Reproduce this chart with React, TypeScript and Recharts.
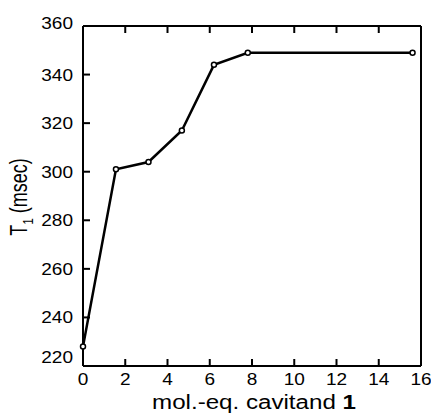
import React from 'react';
import { LineChart, Line, XAxis, YAxis } from 'recharts';

const xValues = [0, 1.56, 3.1, 4.68, 6.2, 7.8, 15.6];
const t1Values = [228, 301, 304, 317, 344, 349, 349];
const xTicks = [0, 2, 4, 6, 8, 10, 12, 14, 16];
const yTicks = [220, 240, 260, 280, 300, 320, 340, 360];

const data = xValues.map((x, i) => ({ x, t1: t1Values[i] }));

const X_MIN = 0;
const X_MAX = 16;
const Y_MIN = 220;
const Y_MAX = 360;

const FONT = '"Liberation Sans", Arial, sans-serif';
const STRETCH = 1.12;
const TICK_LEN = 7;
const TICK_W = 2;

const isEdge = (v: number, lo: number, hi: number) => v === lo || v === hi;

const BottomTick = (props: any) => {
  const { x, y, payload } = props;
  return (
    <g>
      {!isEdge(payload.value, X_MIN, X_MAX) && (
        <line x1={x} x2={x} y1={y} y2={y - TICK_LEN} stroke="#000" strokeWidth={TICK_W} />
      )}
      <text
        transform={`translate(${x},${y + 19}) scale(${STRETCH},1)`}
        textAnchor="middle"
        fontFamily={FONT}
        fontSize={17}
        fill="#000"
      >
        {payload.value}
      </text>
    </g>
  );
};

const TopTick = (props: any) => {
  const { x, y, payload } = props;
  if (isEdge(payload.value, X_MIN, X_MAX)) return <g />;
  return <line x1={x} x2={x} y1={y} y2={y + TICK_LEN} stroke="#000" strokeWidth={TICK_W} />;
};

const LeftTick = (props: any) => {
  const { x, y, payload } = props;
  const lift = payload.value === Y_MIN ? 9 : payload.value === Y_MAX ? 3 : 0;
  return (
    <g>
      {!isEdge(payload.value, Y_MIN, Y_MAX) && (
        <line x1={x} x2={x + TICK_LEN} y1={y} y2={y} stroke="#000" strokeWidth={TICK_W} />
      )}
      <text
        transform={`translate(${x - 10},${y + 6 - lift}) scale(${STRETCH},1)`}
        textAnchor="end"
        fontFamily={FONT}
        fontSize={17}
        fill="#000"
      >
        {payload.value}
      </text>
    </g>
  );
};

const RightTick = (props: any) => {
  const { x, y, payload } = props;
  if (isEdge(payload.value, Y_MIN, Y_MAX)) return <g />;
  return <line x1={x} x2={x - TICK_LEN} y1={y} y2={y} stroke="#000" strokeWidth={TICK_W} />;
};

const YLabel = () => (
  <text
    x={0}
    y={0}
    transform="translate(27,197) rotate(-90) scale(1,1.28)"
    textAnchor="middle"
    fontFamily={FONT}
    fontSize={18}
    fill="#000"
  >
    <tspan>T</tspan>
    <tspan fontSize={12} dy={5}>1</tspan>
    <tspan dy={-5}> (msec)</tspan>
  </text>
);

const XLabel = () => (
  <text
    transform="translate(254,409) scale(1.15,1)"
    textAnchor="middle"
    fontFamily={FONT}
    fontSize={21}
    fill="#000"
  >
    <tspan>mol.-eq. cavitand </tspan>
    <tspan fontWeight="bold">1</tspan>
  </text>
);

export default function App() {
  const axisStroke = { stroke: '#000', strokeWidth: 2 };
  return (
    <div style={{ position: 'absolute', left: 0, top: 0 }}>
      <LineChart
        width={431}
        height={414}
        data={data}
        margin={{ top: 0, right: 0, bottom: 0, left: 0 }}
      >
        <XAxis
          xAxisId="bottom"
          dataKey="x"
          type="number"
          domain={[X_MIN, X_MAX]}
          ticks={xTicks}
          height={48}
          axisLine={axisStroke}
          tickLine={false}
          tickSize={0}
          tickMargin={0}
          tick={<BottomTick />}
          interval={0}
        />
        <XAxis
          xAxisId="top"
          orientation="top"
          dataKey="x"
          type="number"
          domain={[X_MIN, X_MAX]}
          ticks={xTicks}
          height={26}
          axisLine={axisStroke}
          tickLine={false}
          tickSize={0}
          tickMargin={0}
          tick={<TopTick />}
          interval={0}
        />
        <YAxis
          yAxisId="left"
          type="number"
          domain={[Y_MIN, Y_MAX]}
          ticks={yTicks}
          width={83}
          axisLine={axisStroke}
          tickLine={false}
          tickSize={0}
          tickMargin={0}
          tick={<LeftTick />}
          interval={0}
        />
        <YAxis
          yAxisId="right"
          orientation="right"
          type="number"
          domain={[Y_MIN, Y_MAX]}
          ticks={yTicks}
          width={10}
          axisLine={axisStroke}
          tickLine={false}
          tickSize={0}
          tickMargin={0}
          tick={<RightTick />}
          interval={0}
        />
        <Line
          xAxisId="bottom"
          yAxisId="left"
          dataKey="t1"
          type="linear"
          stroke="#000"
          strokeWidth={2.5}
          dot={{ r: 2.5, stroke: '#000', strokeWidth: 1.5, fill: '#fff' }}
          isAnimationActive={false}
        />
        <YLabel />
        <XLabel />
      </LineChart>
    </div>
  );
}
